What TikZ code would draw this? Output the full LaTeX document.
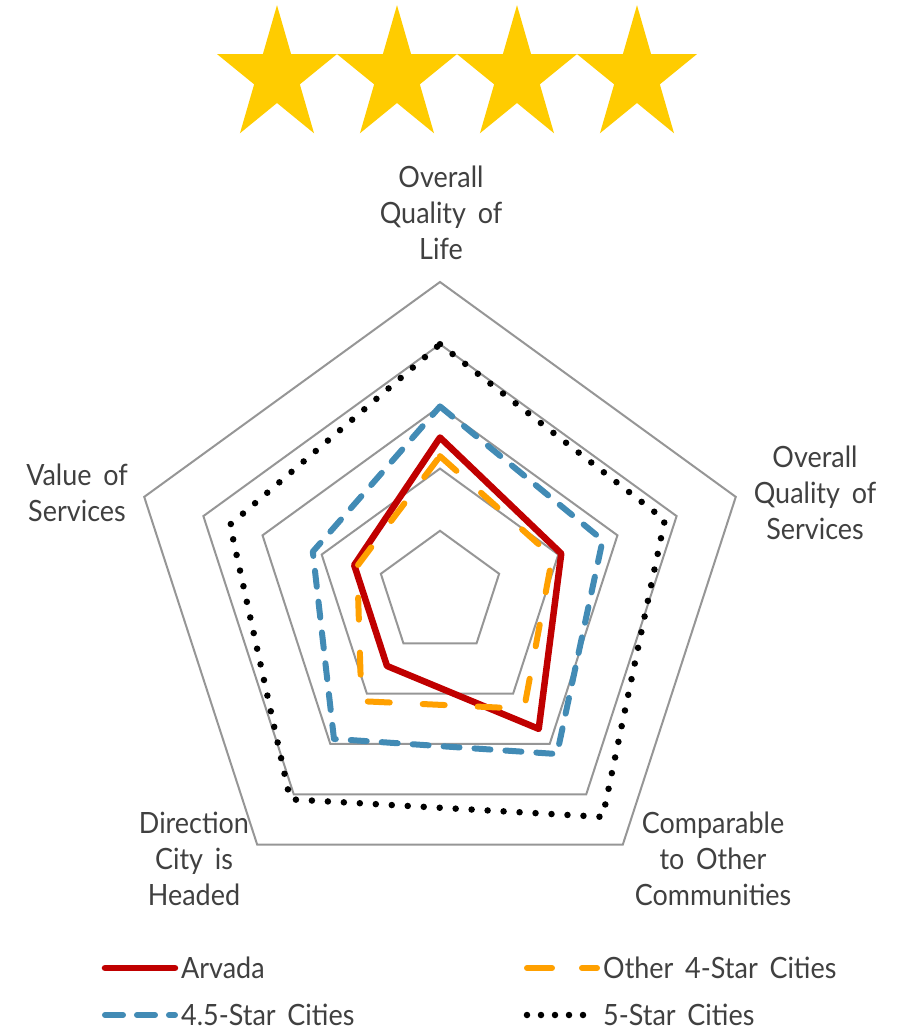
\documentclass[tikz,border=0pt]{standalone}
\usepackage{fontspec}
\setmainfont[FakeStretch=0.92,WordSpace=1.7]{Lato}

\definecolor{ringgray}{HTML}{969696}
\definecolor{txtgray}{HTML}{404040}
\definecolor{arvadared}{HTML}{C00000}
\definecolor{fourorange}{HTML}{FFA000}
\definecolor{halfblue}{HTML}{428BB5}
\definecolor{stargold}{HTML}{FFCC00}

\tikzset{
  ring/.style={draw=ringgray,line width=2pt},
  arvada/.style={draw=arvadared,line width=6.5pt,line join=round},
  fourstar/.style={draw=fourorange,line width=6pt,line cap=round,line join=round,dash pattern=on 22pt off 33pt},
  halfstar/.style={draw=halfblue,line width=6pt,line cap=round,line join=round,dash pattern=on 16pt off 15pt},
  fivestar/.style={draw=black,line width=6.5pt,line cap=round,dash pattern=on 0pt off 16pt},
  axislbl/.style={text=txtgray,align=center,font=\fontsize{29.3}{35.7}\selectfont},
  keylbl/.style={text=txtgray,anchor=west,inner sep=0pt,font=\fontsize{29.3}{35.7}\selectfont}
}

\begin{document}
\begin{tikzpicture}[x=1pt,y=1pt]
\useasboundingbox (-440,-438) rectangle (460,593);

% rating stars
\foreach \sx in {-163,-43,77,197}
  \fill[stargold,shift={(\sx,517)},xscale=0.89] (90:70.8) -- (126:27) -- (162:70.8) -- (198:27) -- (234:70.8)
    -- (270:27) -- (306:70.8) -- (342:27) -- (18:70.8) -- (54:27) -- cycle;

% radar grid and series
\begin{scope}[scale=3.11]
  \foreach \r in {20,40,60,80,100}
    \draw[ring] (90:\r) -- (18:\r) -- (-54:\r) -- (-126:\r) -- (162:\r) -- cycle;
  \foreach \s/\a/\b/\c/\d/\e in {arvada/50/41/54/29/29, fourstar/44/38/46/43/28,
                                 halfstar/60/55/64/58/43, fivestar/80/76/89/82/71}
    \draw[\s] (90:\a) -- (18:\b) -- (-54:\c) -- (-126:\d) -- (162:\e) -- cycle;
\end{scope}

% axis labels
\node[axislbl] (lifeLbl) at (1,380) {Overall\\Quality of\\Life};
\node[axislbl] (servLbl) at (375,100) {Overall\\Quality of\\Services};
\node[axislbl] (compLbl) at (273,-266) {Comparable\\to Other\\Communities};
\node[axislbl] (dirLbl) at (-246,-266) {Direction\\City is\\Headed};
\node[axislbl] (valueLbl) at (-363,100) {Value of\\Services};

% legend
\coordinate (kA1) at (-335,-375); \coordinate (kA2) at (-265,-375);
\coordinate (kB1) at (87,-375);   \coordinate (kB2) at (157,-375);
\coordinate (kC1) at (-335,-422); \coordinate (kC2) at (-265,-422);
\coordinate (kD1) at (87,-422);   \coordinate (kD2) at (157,-422);
\draw[arvada,line cap=round] (kA1) -- (kA2);
\draw[fourstar,dash pattern=on 25pt off 30pt] (kB1) -- (kB2);
\draw[halfstar,dash pattern=on 18pt off 14pt] (kC1) -- (kC2);
\draw[fivestar,dash pattern=on 0pt off 14pt] (kD1) -- (kD2);
\node[keylbl] (keyA) at (-259,-375) {Arvada};
\node[keylbl] (keyB) at (163,-375) {Other 4-Star Cities};
\node[keylbl] (keyC) at (-259,-422) {4.5-Star Cities};
\node[keylbl] (keyD) at (163,-422) {5-Star Cities};
\end{tikzpicture}
\end{document}
